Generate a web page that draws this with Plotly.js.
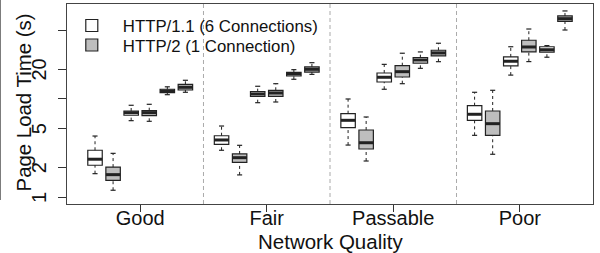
<!DOCTYPE html>
<html>
<head>
<meta charset="utf-8">
<script src="https://cdn.plot.ly/plotly-3.0.1.min.js"></script>
<style>html,body{margin:0;padding:0;background:#fff;}#chart{width:600px;height:253px;}</style>
</head>
<body>
<div id="chart"></div>
<script>
// Categories (network quality), series names and tick labels
const qualities = ['Good', 'Fair', 'Passable', 'Poor'];
const seriesNames = ['HTTP/1.1 (6 Connections)', 'HTTP/2 (1 Connection)'];
const xTitle = 'Network Quality';
const yTitle = 'Page Load Time (s)';
const yTickVals = [1, 2, 5, 10, 20, 50];
const yTickText = ['1', '2', '5', '', '20', ''];

// Box statistics, 3 boxes per quality (group-major order), page load time in seconds
// HTTP/1.1 (6 connections)
const h1Lower  = [1.74, 6.02, 11.06, 3.01, 9.17, 15.87, 3.40, 12.56, 20.5, 4.27, 17.5, 26.6];
const h1Q1     = [2.12, 6.83, 11.59, 3.46, 10.65, 17.14, 5.11, 14.89, 23.2, 6.07, 21.7, 29.9];
const h1Median = [2.44, 7.26, 12.06, 3.83, 11.24, 17.97, 6.07, 16.63, 24.9, 6.99, 24.2, 31.7];
const h1Q3     = [3.01, 7.55, 12.56, 4.23, 11.87, 18.69, 7.09, 18.39, 26.3, 8.55, 26.8, 34.0];
const h1Upper  = [4.20, 8.63, 13.3, 5.31, 13.47, 19.87, 10.0, 22.5, 30.1, 11.7, 34.0, 34.9];
// HTTP/2 (1 connection)
const h2Lower  = [1.18, 5.93, 11.70, 1.69, 9.32, 17.8, 2.34, 14.31, 23.96, 2.74, 24.0, 50.3];
const h2Q1     = [1.49, 6.76, 12.35, 2.27, 10.65, 18.8, 3.10, 16.74, 27.4, 4.27, 30.1, 61.7];
const h2Median = [1.70, 7.26, 13.15, 2.53, 11.51, 20.05, 3.59, 18.96, 29.4, 5.61, 33.8, 65.6];
const h2Q3     = [2.03, 7.60, 14.11, 2.76, 12.26, 21.2, 4.84, 21.8, 31.3, 7.55, 39.6, 69.9];
const h2Upper  = [2.80, 8.83, 15.5, 3.38, 14.31, 23.4, 6.56, 29.2, 36.9, 12.26, 51.5, 78.6];

// ---- layout helpers ----
const PER_GROUP = 3;
const SLOT = 7; // 6 boxes + 1 gap per quality
function positions(offset) {
  return h1Median.map((_, i) => Math.floor(i / PER_GROUP) * SLOT + (i % PER_GROUP) * 2 + 1 + offset);
}
const xWhite = positions(0);
const xGray = positions(1);
const groupCenters = qualities.map((_, g) => g * SLOT + 3.5);
const separators = qualities.slice(1).map((_, g) => (g + 1) * SLOT);

const HALF = 0.4, CAP = 0.14;
const edge = '#222';

function boxTrace(name, x, q1, med, q3, fill, legendId) {
  return {
    type: 'box', name: name, x: x,
    q1: q1, median: med, q3: q3,
    lowerfence: q1, upperfence: q3,
    width: 2 * HALF, whiskerwidth: 0,
    fillcolor: fill, line: {color: edge, width: 1.2},
    boxpoints: false, hoverinfo: 'skip', showlegend: true, legend: legendId
  };
}
function segs(x, ya, yb, dxa, dxb) {
  const xs = [], ys = [];
  x.forEach((p, i) => { xs.push(p + dxa, p + dxb, null); ys.push(ya[i], yb[i], null); });
  return {xs, ys};
}
function lineTrace(s, w, dash) {
  return {type: 'scatter', mode: 'lines', x: s.xs, y: s.ys, showlegend: false, hoverinfo: 'skip',
          line: {color: edge, width: w, dash: dash || 'solid'}};
}
function whiskers(x, lo, q1, q3, up) {
  return [
    lineTrace(segs(x, q3, up, 0, 0), 1, '3px,3px'),
    lineTrace(segs(x, lo, q1, 0, 0), 1, '3px,3px'),
    lineTrace(segs(x, up, up, -CAP, CAP), 1.2),
    lineTrace(segs(x, lo, lo, -CAP, CAP), 1.2)
  ];
}

const traces = [
  ...whiskers(xWhite, h1Lower, h1Q1, h1Q3, h1Upper),
  ...whiskers(xGray, h2Lower, h2Q1, h2Q3, h2Upper),
  boxTrace(seriesNames[0], xWhite, h1Q1, h1Median, h1Q3, '#ffffff', 'legend'),
  boxTrace(seriesNames[1], xGray, h2Q1, h2Median, h2Q3, '#bebebe', 'legend2'),
  lineTrace(segs(xWhite, h1Median, h1Median, -HALF, HALF), 3),
  lineTrace(segs(xGray, h2Median, h2Median, -HALF, HALF), 3)
];

const font = 'Liberation Sans, Arial, Helvetica, sans-serif';
const legendBase = {xanchor: 'left', yanchor: 'top', bgcolor: 'rgba(0,0,0,0)',
  font: {size: 16.8, family: font, color: '#111'}, itemwidth: 52};
const layout = {
  width: 600, height: 253,
  margin: {l: 67, r: 7, t: 4, b: 49},
  paper_bgcolor: '#fff', plot_bgcolor: '#fff',
  font: {family: font, color: '#111'},
  boxmode: 'overlay',
  showlegend: true,
  legend: Object.assign({x: -0.0118, y: 0.9795}, legendBase),
  legend2: Object.assign({x: -0.0118, y: 0.882}, legendBase),
  xaxis: {
    type: 'linear', range: [-0.55, 28.55],
    tickmode: 'array', tickvals: groupCenters, ticktext: qualities,
    ticks: 'outside', ticklen: 7, tickcolor: '#333', tickwidth: 1,
    ticklabelstandoff: -11,
    tickfont: {size: 20, family: font, color: '#111'},
    showgrid: false, zeroline: false,
    showline: true, mirror: true, linecolor: '#444', linewidth: 1.3
  },
  yaxis: {
    type: 'log', range: [Math.log10(0.855), Math.log10(92.5)],
    tickmode: 'array', tickvals: yTickVals, ticktext: yTickText, tickangle: -90,
    ticks: 'outside', ticklen: 8, tickcolor: '#333', tickwidth: 1,
    ticklabelstandoff: 4, ticklabelshift: 3,
    tickfont: {size: 20, family: font, color: '#111'},
    showgrid: false, zeroline: false,
    showline: true, mirror: true, linecolor: '#444', linewidth: 1.3
  },
  annotations: [
    {text: xTitle, xref: 'paper', yref: 'paper', x: 0.5, y: -0.1875, xanchor: 'center', yanchor: 'middle',
     showarrow: false, font: {size: 20.5, family: font, color: '#111'}},
    {text: yTitle, xref: 'paper', yref: 'paper', x: -0.082, y: 0.507, xanchor: 'center', yanchor: 'middle',
     textangle: -90, showarrow: false, font: {size: 20.4, family: font, color: '#111'}}
  ],
  shapes: separators.map(s => ({
    type: 'line', xref: 'x', yref: 'paper', x0: s, x1: s, y0: 0, y1: 1,
    line: {color: '#aaaaaa', width: 1, dash: '4px,3px'}, layer: 'below'
  })).concat([{
    type: 'line', xref: 'paper', yref: 'paper', x0: -0.1265, x1: -0.1265, y0: 0.02, y1: 1.02,
    line: {color: '#777', width: 1}
  }])
};

Plotly.newPlot('chart', traces, layout, {staticPlot: true, displayModeBar: false});
</script>
</body>
</html>
